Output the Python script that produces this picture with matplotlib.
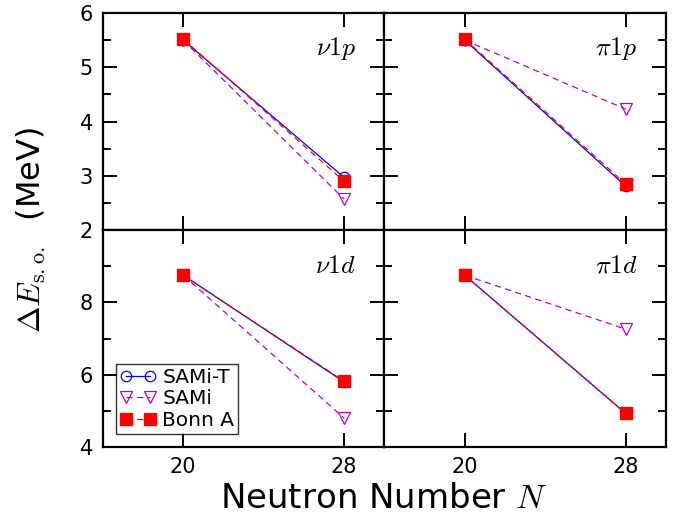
import matplotlib
matplotlib.use('Agg')
import matplotlib.pyplot as plt

# neutron numbers
N = [20, 28]

# spin-orbit splittings (MeV), per panel
labels = ['$\\nu 1p$', '$\\pi 1p$', '$\\nu 1d$', '$\\pi 1d$']
sami_t = [[5.50, 2.97], [5.50, 2.81], [8.75, 5.80], [8.75, 4.93]]
sami = [[5.50, 2.57], [5.50, 4.23], [8.75, 4.80], [8.75, 7.26]]
bonn_a = [[5.52, 2.90], [5.52, 2.85], [8.75, 5.82], [8.75, 4.93]]

plt.rcParams['mathtext.fontset'] = 'cm'
plt.rcParams['font.size'] = 15

fig, axes = plt.subplots(2, 2, figsize=(6.85, 5.22), dpi=100)
fig.subplots_adjust(left=0.150, right=0.972, top=0.975, bottom=0.1437,
                    wspace=0, hspace=0)

for i, ax in enumerate(axes.flat):
    ax.plot(N, sami_t[i], '-o', color='blue', lw=0.9, ms=7.5, mfc='none',
            mec='blue', mew=0.9, label='SAMi-T')
    ax.plot(N, sami[i], '--v', color='m', lw=0.9, ms=8, mfc='none',
            mec='m', mew=0.9, dashes=(5, 3.5), label='SAMi')
    ax.plot(N, bonn_a[i], '--s', color='red', lw=0.9, ms=9, mfc='red',
            mec='red', dashes=(5, 3.5), label='Bonn A')

    ax.set_xlim(16, 30)
    ax.set_xticks(N)
    if i < 2:
        ax.set_ylim(2, 6)
        ax.set_yticks([2, 3, 4, 5, 6])
        ax.set_yticks([2.5, 3.5, 4.5, 5.5], minor=True)
        ax.tick_params(labelbottom=False)
    else:
        ax.set_ylim(4, 10)
        ax.set_yticks([4, 6, 8])
        ax.set_yticks([5, 7, 9], minor=True)
    if i % 2 == 1:
        ax.tick_params(labelleft=False)

    ax.tick_params(which='both', direction='in', top=True, right=True, width=1.4)
    ax.tick_params(which='major', length=10, pad=7, labelsize=15)
    ax.tick_params(which='minor', length=6)
    for s in ax.spines.values():
        s.set_linewidth(1.6)

    ax.text(0.90, 0.835, labels[i], transform=ax.transAxes, ha='right',
            va='center', fontsize=18.5)

leg = axes[1, 0].legend(loc='lower left', numpoints=2, fontsize=14.5,
                        fancybox=False, edgecolor='black', handlelength=1.8,
                        handletextpad=0.3, borderpad=0.2, labelspacing=0.12,
                        borderaxespad=0.65)
leg.get_frame().set_linewidth(1.0)

fig.text(0.046, 0.559, '$\\Delta E_{\\rm s.o.}$  (MeV)', rotation=90,
         ha='center', va='center', fontsize=23)
fig.text(0.561, 0.045, 'Neutron Number $N$', ha='center', va='center',
         fontsize=24.5)

fig.savefig('out.png', dpi=100)
